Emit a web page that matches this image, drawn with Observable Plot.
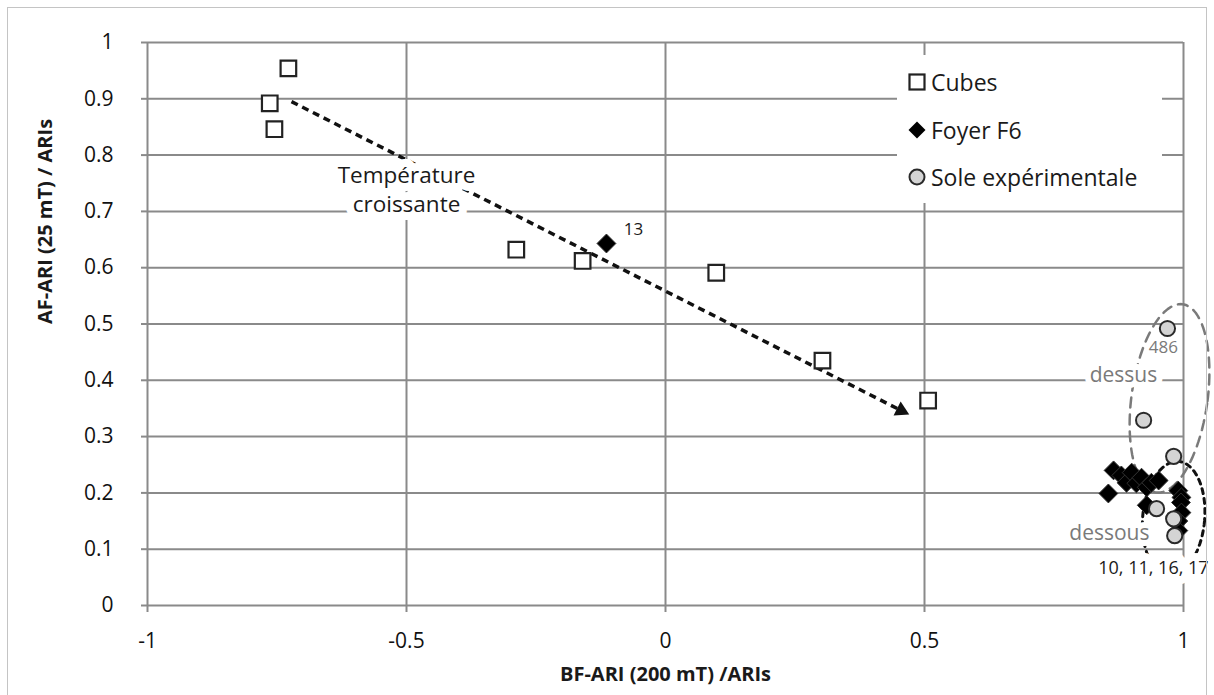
<!DOCTYPE html>
<html>
<head>
<meta charset="utf-8">
<script src="https://cdn.jsdelivr.net/npm/d3@7"></script>
<script src="https://cdn.jsdelivr.net/npm/@observablehq/plot@0.6"></script>
<style>
html, body { margin: 0; padding: 0; background: #fff; overflow: hidden; }
#wrap { position: relative; width: 1214px; height: 695px; font-family: "Open Sans", sans-serif; }
#frame { position: absolute; left: 7px; top: 7px; width: 1200px; height: 700px; border: 1.5px solid #c4c4c4; box-sizing: border-box; pointer-events: none; }
#legend { position: absolute; left: 897px; top: 55px; width: 265px; height: 148px; background: #fff; }
.item { position: absolute; left: 0; height: 30px; display: flex; align-items: center; font-size: 23px; color: #1a1a1a; }
.item svg { margin-left: 10px; margin-right: 4px; }
</style>
</head>
<body>
<div id="wrap"><div id="frame"></div></div>
<script>
// ---- data ----
const seriesNames = ["Cubes", "Foyer F6", "Sole expérimentale"];

const cubesX = [-0.728, -0.764, -0.755, -0.288, -0.160, 0.098, 0.303, 0.507];
const cubesY = [0.954, 0.892, 0.846, 0.632, 0.612, 0.591, 0.435, 0.364];

const foyerX = [-0.114, 0.855, 0.865, 0.880, 0.890, 0.900, 0.909, 0.919, 0.929, 0.938, 0.952, 0.929, 0.990, 0.996, 0.995, 0.996, 0.990, 0.990];
const foyerY = [0.643, 0.199, 0.240, 0.231, 0.218, 0.236, 0.217, 0.227, 0.210, 0.218, 0.222, 0.178, 0.204, 0.192, 0.183, 0.165, 0.150, 0.133];

const soleX = [0.969, 0.923, 0.981, 0.948, 0.981, 0.983];
const soleY = [0.492, 0.329, 0.265, 0.172, 0.154, 0.124];

const xTicks = [-1, -0.5, 0, 0.5, 1];
const xTickLabels = ["-1", "-0.5", "0", "0.5", "1"];
const yTicks = [0, 0.1, 0.2, 0.3, 0.4, 0.5, 0.6, 0.7, 0.8, 0.9, 1];
const yTickLabels = ["0", "0.1", "0.2", "0.3", "0.4", "0.5", "0.6", "0.7", "0.8", "0.9", "1"];

const xTitle = "BF-ARI (200 mT) /ARIs";
const yTitle = "AF-ARI (25 mT) / ARIs";

// annotations
const arrowX = [-0.722, 0.475];
const arrowY = [0.895, 0.337];
const arrowText = "Température\ncroissante";
const arrowTextX = [-0.5];
const arrowTextY = [0.741];

const grayLabels = ["486", "dessus", "dessous"];
const grayLabelX = [0.961, 0.884, 0.857];
const grayLabelY = [0.458, 0.409, 0.128];

const blackLabels = ["13", "10, 11, 16, 17"];
const blackLabelX = [-0.062, 0.942];
const blackLabelY = [0.668, 0.067];

// ellipses: centre (data), radii (px), tilt (deg)
const ellipseNames = ["dessus", "dessous"];
const ellipseCX = [0.973, 0.981];
const ellipseCY = [0.368, 0.155];
const ellipseRX = [38, 31];
const ellipseRY = [95, 57];
const ellipseTilt = [8, 5];

// ---- layout ----
const W = 1214, H = 695, ML = 147, MR = 31, MT = 42, MB = 90;
const kx = (W - ML - MR) / 2;   // px per x unit
const ky = (H - MT - MB) / 1;   // px per y unit

const cubes = cubesX.map((x, i) => ({x, y: cubesY[i]}));
const foyer = foyerX.map((x, i) => ({x, y: foyerY[i]}));
const sole = soleX.map((x, i) => ({x, y: soleY[i]}));

function ellipse(i) {
  const pts = [];
  const a = ellipseTilt[i] * Math.PI / 180;
  for (let k = 0; k < 90; k++) {
    const t = 2 * Math.PI * k / 90;
    const px = ellipseRX[i] * Math.cos(t), py = ellipseRY[i] * Math.sin(t);
    const qx = px * Math.cos(a) - py * Math.sin(a);
    const qy = px * Math.sin(a) + py * Math.cos(a);
    pts.push({x: ellipseCX[i] + qx / kx, y: ellipseCY[i] - qy / ky});
  }
  return pts;
}

// arrow geometry in pixel space
const dxp = (arrowX[1] - arrowX[0]) * kx, dyp = (arrowY[0] - arrowY[1]) * ky;
const lenp = Math.hypot(dxp, dyp);
const ux = dxp / lenp, uy = dyp / lenp;
const theta = Math.atan2(dyp, dxp) * 180 / Math.PI;
const headR = 7.5;
const headTip = 2 * Math.sqrt(Math.PI * headR * headR / (3 * Math.sqrt(3)));
const back = (d) => ({x: arrowX[1] - ux * d / kx, y: arrowY[1] + uy * d / ky});
const lineEnd = back(headTip * 1.3);
const headC = back(headTip);

const grid = {stroke: "#8a8a8a", strokeWidth: 2, strokeOpacity: 1};

const chart = Plot.plot({
  width: W, height: H,
  marginLeft: ML, marginRight: MR, marginTop: MT, marginBottom: MB,
  style: {fontFamily: "'Open Sans', sans-serif", background: "transparent"},
  x: {domain: [-1, 1]},
  y: {domain: [0, 1]},
  marks: [
    Plot.ruleX(xTicks, grid),
    Plot.ruleY(yTicks, grid),
    Plot.axisX({ticks: xTicks, tickFormat: d => xTickLabels[xTicks.indexOf(d)], tickSize: 7, tickPadding: 21,
      stroke: "#8a8a8a", strokeWidth: 2, fill: "#111", fontSize: 21, label: null}),
    Plot.axisY({ticks: yTicks, tickFormat: d => yTickLabels[yTicks.findIndex(v => Math.abs(v - d) < 1e-9)], tickSize: 6, tickPadding: 28,
      stroke: "#8a8a8a", strokeWidth: 2, fill: "#111", fontSize: 21, label: null}),
    Plot.text([xTitle], {frameAnchor: "bottom", dy: 75, fontSize: 20, fontWeight: "bold", fill: "#1a1a1a"}),
    Plot.text([yTitle], {frameAnchor: "left", dx: -102, rotate: -90, fontSize: 20, fontWeight: "bold", fill: "#1a1a1a"}),
    // ellipses
    Plot.line(ellipse(0), {x: "x", y: "y", curve: "linear-closed", stroke: "#7a7a7a", strokeWidth: 2.5, strokeDasharray: "10,7"}),
    Plot.line(ellipse(1), {x: "x", y: "y", curve: "linear-closed", stroke: "#111", strokeWidth: 3, strokeDasharray: "5,5"}),
    // arrow
    Plot.link([0], {x1: () => arrowX[0], y1: () => arrowY[0], x2: () => lineEnd.x, y2: () => lineEnd.y,
      stroke: "#111", strokeWidth: 3.5, strokeDasharray: "7,5"}),
    Plot.dot([headC], {x: "x", y: "y", symbol: "triangle2", r: headR, fill: "#111", rotate: theta + 90}),
    Plot.text([arrowText], {x: () => arrowTextX[0], y: () => arrowTextY[0], fontSize: 22.5, lineHeight: 1.3, fill: "#1a1a1a",
      stroke: "white", strokeWidth: 16, paintOrder: "stroke"}),
    // points
    Plot.dot(foyer, {x: "x", y: "y", symbol: "diamond2", r: 8.5, fill: "#000", stroke: "#333", strokeWidth: 1}),
    Plot.dot(cubes, {x: "x", y: "y", symbol: "square", r: 8.8, fill: "#fff", stroke: "#222", strokeWidth: 2.2}),
    Plot.dot(sole, {x: "x", y: "y", symbol: "circle", r: 7.6, fill: "#d4d4d4", stroke: "#2a2a2a", strokeWidth: 2}),
    // labels
    Plot.text(grayLabels, {x: (d, i) => grayLabelX[i], y: (d, i) => grayLabelY[i], text: d => d,
      fontSize: d => d === "486" ? 17 : 21, fill: "#7a7a7a",
      stroke: d => d === "486" ? "none" : "white", strokeWidth: 12, paintOrder: "stroke"}),
    Plot.text(blackLabels, {x: (d, i) => blackLabelX[i], y: (d, i) => blackLabelY[i], text: d => d,
      fontSize: d => d === "13" ? 17 : 18, fill: "#1a1a1a",
      stroke: d => d === "13" ? "none" : "white", strokeWidth: 16, paintOrder: "stroke"})
  ]
});
chart.style.position = "absolute";
chart.style.left = "0px";
chart.style.top = "0px";
const wrap = document.getElementById("wrap");
wrap.insertBefore(chart, wrap.firstChild);

// legend (HTML overlay, white box over grid)
const legend = document.createElement("div");
legend.id = "legend";
const symbols = [
  '<rect x="2.5" y="2.5" width="15" height="15" fill="#fff" stroke="#222" stroke-width="2.2"/>',
  '<path d="M10 1.5 L18.5 10 L10 18.5 L1.5 10 Z" fill="#000"/>',
  '<circle cx="10" cy="10" r="7.5" fill="#d4d4d4" stroke="#2a2a2a" stroke-width="2"/>'
];
const rowTops = [12, 60, 107];
seriesNames.forEach((name, i) => {
  const it = document.createElement("div");
  it.className = "item";
  it.style.top = rowTops[i] + "px";
  it.innerHTML = `<svg width="20" height="20" viewBox="0 0 20 20">${symbols[i]}</svg><span>${name}</span>`;
  legend.appendChild(it);
});
wrap.appendChild(legend);
</script>
</body>
</html>
